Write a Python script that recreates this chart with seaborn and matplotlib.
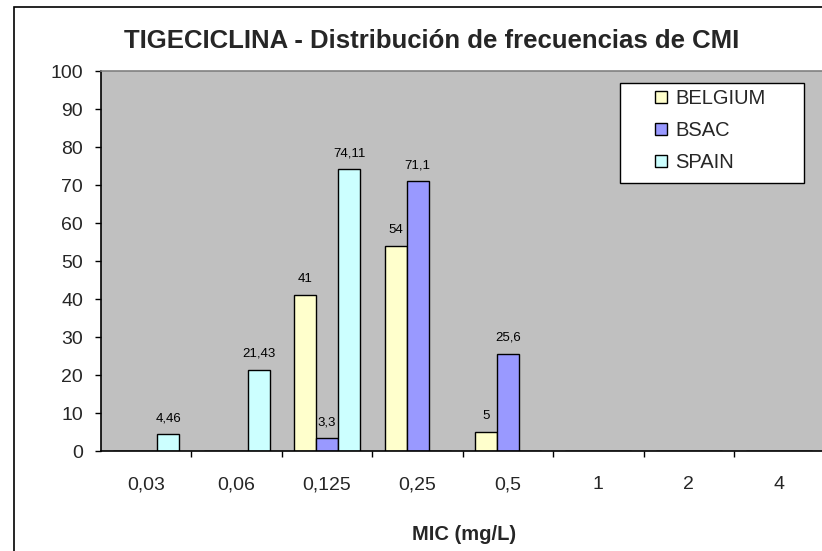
import matplotlib
matplotlib.use("Agg")
import matplotlib.pyplot as plt
from matplotlib.patches import Rectangle
import seaborn as sns
import pandas as pd

# MIC categories (mg/L) and percentage of isolates per source
mic_labels = ["0,03", "0,06", "0,125", "0,25", "0,5", "1", "2", "4"]
sources = ["BELGIUM", "BSAC", "SPAIN"]
belgium = [0, 0, 41, 54, 5, 0, 0, 0]
bsac = [0, 0, 3.3, 71.1, 25.6, 0, 0, 0]
spain = [4.46, 21.43, 74.11, 0, 0, 0, 0, 0]
colors = ["#FFFFCC", "#9999FF", "#CCFFFF"]

rows = []
for src, vals in zip(sources, [belgium, bsac, spain]):
    for mic, v in zip(mic_labels, vals):
        rows.append({"mic": mic, "pct": v, "source": src})
df = pd.DataFrame(rows)

sns.set_style("white")
plt.rcParams["font.family"] = ["Liberation Sans", "DejaVu Sans"]

W, H = 822, 551
fig = plt.figure(figsize=(W / 100, H / 100), dpi=100)
fig.patch.set_facecolor("white")

# outer chart border
fig.patches.append(Rectangle((14 / W, -0.05), 1.1, 1 - 7 / H + 0.05,
                             transform=fig.transFigure, fill=False,
                             edgecolor="black", linewidth=1.2))

left, right, top, bottom = 101, 824.5, 71, 451
ax = fig.add_axes([left / W, 1 - bottom / H, (right - left) / W, (bottom - top) / H])
ax.set_facecolor("#C0C0C0")

sns.barplot(data=df, x="mic", y="pct", hue="source", order=mic_labels,
            hue_order=sources, palette=colors, saturation=1, width=0.73,
            edgecolor="black", linewidth=1.0, ax=ax)

for cont in ax.containers:
    labs = [("%g" % b.get_height()).replace(".", ",") if b.get_height() > 0 else ""
            for b in cont]
    ax.bar_label(cont, labels=labs, padding=7, fontsize=9.5, color="black")

ax.set_xlim(-0.5, len(mic_labels) - 0.5)
ax.set_ylim(0, 100)
ax.set_yticks(range(0, 101, 10))
ax.set_xlabel("")
ax.set_ylabel("")

ax.tick_params(axis="y", which="major", direction="out", length=4, width=1,
               color="black", labelsize=14, pad=9, left=True)
ax.tick_params(axis="x", which="major", length=0, labelsize=14, pad=18)
ax.set_xticks(range(len(mic_labels)))
ax.set_xticklabels(mic_labels)
ax.set_xticks([i + 0.5 for i in range(len(mic_labels) - 1)], minor=True)
ax.tick_params(axis="x", which="minor", direction="out", length=4, width=1,
               color="black", bottom=True)

for side in ["left", "bottom"]:
    ax.spines[side].set_color("black")
    ax.spines[side].set_linewidth(1.2)
ax.spines["top"].set_color("#808080")
ax.spines["top"].set_linewidth(1.2)
ax.spines["right"].set_visible(False)

# legend
handles, labels = ax.get_legend_handles_labels()
if ax.get_legend() is not None:
    ax.get_legend().remove()
fig.patches.append(Rectangle((620 / W, 1 - 183 / H), 184 / W, 100 / H,
                             transform=fig.transFigure, facecolor="white",
                             edgecolor="black", linewidth=1.0, zorder=5))
leg = fig.legend(handles, labels, loc="upper left",
                 bbox_to_anchor=(655 / W, 1 - 89 / H), frameon=False,
                 fontsize=14.5, handlelength=0.6, handleheight=0.6,
                 handletextpad=0.4, labelspacing=0.65, borderpad=0,
                 borderaxespad=0)
leg.set_zorder(6)

fig.text(431.5 / W, 1 - 48 / H, "TIGECICLINA - Distribución de frecuencias de CMI",
         ha="center", va="baseline", fontsize=18.5, fontweight="bold")
fig.text(464 / W, 1 - 540 / H, "MIC (mg/L)", ha="center", va="baseline",
         fontsize=14.5, fontweight="bold")

fig.savefig("out.png", dpi=100, facecolor="white")
